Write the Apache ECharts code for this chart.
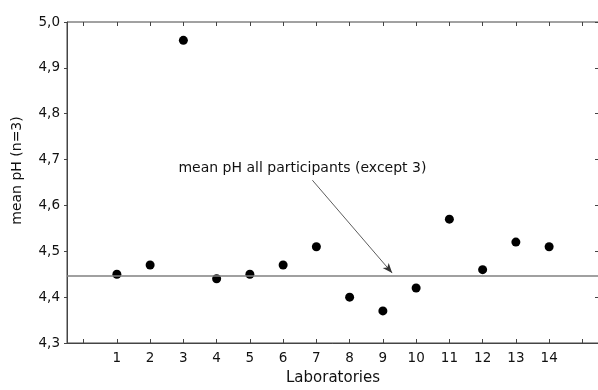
<!DOCTYPE html>
<html>
<head>
<meta charset="utf-8">
<script src="https://cdn.jsdelivr.net/npm/echarts@6/dist/echarts.min.js"></script>
<style>html,body{margin:0;padding:0;background:#fff;}#c{width:598px;height:390px;}</style>
</head>
<body>
<div id="c"></div>
<script>
const laboratories = [1,2,3,4,5,6,7,8,9,10,11,12,13,14];
const meanPH = [4.45,4.47,4.96,4.44,4.45,4.47,4.51,4.40,4.37,4.42,4.57,4.46,4.52,4.51];
const overallMean = 4.447;
const xTicks = [0,1,2,3,4,5,6,7,8,9,10,11,12,13,14,15];
const xLabels = [1,2,3,4,5,6,7,8,9,10,11,12,13,14];
const annotationText = 'mean pH all participants (except 3)';
const annotationPos = [6.58, 4.681];
const arrowFrom = [6.88, 4.655];
const arrowTo = [9.28, 4.4525];

const font = 'DejaVu Sans, Liberation Sans, Arial, sans-serif';
const axisColor = '#444';
const textColor = '#111';
const yMax = 5.0, yMin = 4.3;
const topTickLen = (yMax - yMin) * 4 / 321;
const chart = echarts.init(document.getElementById('c'));
chart.setOption({
  animation: false,
  backgroundColor: '#fff',
  grid: {left: 67, top: 22, right: -1, bottom: 47, outerBoundsMode: 'none', containLabel: false,
    show: true, borderColor: axisColor, borderWidth: 1, backgroundColor: 'transparent'},
  xAxis: [{
    type: 'value', min: -0.5, max: 15.5,
    name: 'Laboratories', nameLocation: 'middle', nameGap: 28,
    nameTextStyle: {fontFamily: font, fontSize: 15, color: textColor},
    axisLine: {show: true, onZero: false, lineStyle: {color: axisColor, width: 1}},
    axisTick: {show: true, inside: true, length: 4, customValues: xTicks, lineStyle: {color: axisColor}},
    axisLabel: {customValues: xLabels, fontFamily: font, fontSize: 13.5, color: textColor, margin: 8},
    splitLine: {show: false}
  }],
  yAxis: [{
    type: 'value', min: yMin, max: yMax, interval: 0.1,
    name: 'mean pH (n=3)', nameLocation: 'middle', nameGap: 43,
    nameTextStyle: {fontFamily: font, fontSize: 14, color: textColor, padding: [0, 0, 0, 24]},
    axisLine: {show: true, onZero: false, lineStyle: {color: axisColor, width: 1}},
    axisTick: {show: true, inside: false, length: 3, lineStyle: {color: axisColor}},
    axisLabel: {fontFamily: font, fontSize: 13.5, color: textColor, margin: 7,
      formatter: v => v.toFixed(1).replace('.', ',')},
    splitLine: {show: false}
  }, {
    type: 'value', min: yMin, max: yMax, interval: 0.1, position: 'right',
    axisLine: {show: true, onZero: false, lineStyle: {color: axisColor, width: 1}},
    axisTick: {show: true, inside: true, length: 4, lineStyle: {color: axisColor}},
    axisLabel: {show: false},
    splitLine: {show: false}
  }],
  series: [{
    type: 'scatter',
    symbolSize: 9,
    itemStyle: {color: '#000', opacity: 1},
    data: laboratories.map((l, i) => [l, meanPH[i]]),
    markLine: {
      silent: true,
      animation: false,
      data: [
        [{coord: [-0.5, overallMean], symbol: 'none'}, {coord: [15.5, overallMean], symbol: 'none',
          lineStyle: {color: '#808080', width: 1.5, type: 'solid'}}],
        [{coord: arrowFrom, symbol: 'none'}, {coord: arrowTo, symbol: 'arrow', symbolSize: [6, 10],
          lineStyle: {color: '#333', width: 0.8, type: 'solid'}}]
      ].concat(xTicks.map(x => [
        {coord: [x, yMax], symbol: 'none'},
        {coord: [x, yMax - topTickLen], symbol: 'none', lineStyle: {color: axisColor, width: 1, type: 'solid'}}
      ])),
      label: {show: false},
      lineStyle: {color: '#808080', width: 1.5, type: 'solid'}
    },
    markPoint: {
      silent: true,
      symbol: 'circle', symbolSize: 0,
      data: [{coord: annotationPos, value: 0}],
      label: {show: true, formatter: annotationText, fontFamily: font, fontSize: 14, color: textColor, position: 'inside'}
    }
  }]
});
</script>
</body>
</html>
